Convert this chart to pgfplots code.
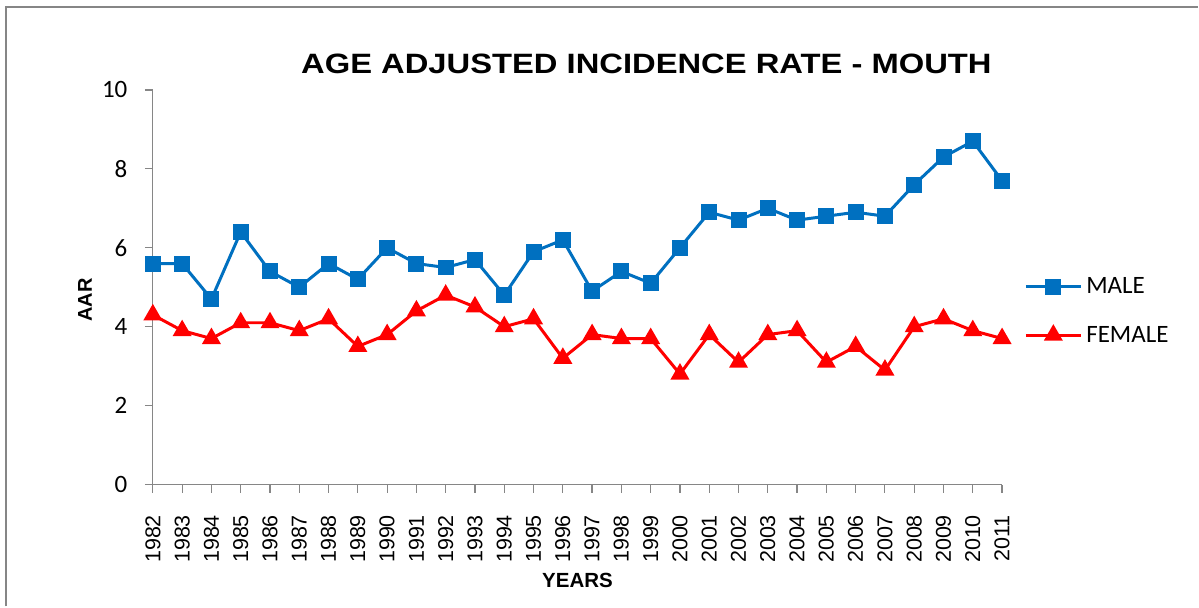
\documentclass[border=0pt]{standalone}
\usepackage{pgfplots}
\pgfplotsset{compat=1.18}
\usepackage{fontspec}
\setmainfont{Liberation Sans}
\newfontfamily\calfont{Carlito}
\usepackage{graphicx}
\definecolor{maleblue}{HTML}{0070C0}
\definecolor{femred}{HTML}{FF0000}
\definecolor{axgray}{HTML}{868686}
\pgfplotstableread{
year male female
1982 5.6 4.3
1983 5.6 3.9
1984 4.7 3.7
1985 6.4 4.1
1986 5.4 4.1
1987 5.0 3.9
1988 5.6 4.2
1989 5.2 3.5
1990 6.0 3.8
1991 5.6 4.4
1992 5.5 4.8
1993 5.7 4.5
1994 4.8 4.0
1995 5.9 4.2
1996 6.2 3.2
1997 4.9 3.8
1998 5.4 3.7
1999 5.1 3.7
2000 6.0 2.8
2001 6.9 3.8
2002 6.7 3.1
2003 7.0 3.8
2004 6.7 3.9
2005 6.8 3.1
2006 6.9 3.5
2007 6.8 2.9
2008 7.6 4.0
2009 8.3 4.2
2010 8.7 3.9
2011 7.7 3.7
}\datatable
\begin{document}
\begin{tikzpicture}
\path[fill=white] (0,0) rectangle (1199bp,607bp);
\draw[axgray, line width=2.2bp] (6bp,0) -- (6bp,600bp) -- (1199bp,600bp);
\node[font=\bfseries\fontsize{28bp}{30bp}\selectfont] at (647bp,543bp) {\scalebox{1.17}[1]{AGE ADJUSTED INCIDENCE RATE - MOUTH}};
\begin{axis}[
  scale only axis,
  width=850bp, height=395bp,
  at={(153bp,122bp)}, anchor=origin,
  xmin=1982, xmax=2011, ymin=0, ymax=10,
  axis lines=left,
  axis line style={-, axgray, line width=1.2bp},
  xtick={1982,...,2011},
  ytick={0,2,4,6,8,10},
  tick align=outside,
  major tick length=8bp,
  tick style={axgray, line width=1.2bp},
  xticklabel style={rotate=90, anchor=east, font=\fontsize{21.5bp}{23bp}\selectfont, xshift=-19bp},
  yticklabel style={font=\calfont\fontsize{25bp}{27bp}\selectfont, xshift=-14bp},
  xticklabel={\pgfmathprintnumber[1000 sep={}]{\tick}},
  /pgf/number format/assume math mode=true,
  xlabel={\bfseries YEARS},
  ylabel={\bfseries AAR},
  xlabel style={font=\fontsize{20.5bp}{22bp}\selectfont, at={(0.5,0)}, anchor=center, yshift=-96bp},
  ylabel style={font=\fontsize{20bp}{22bp}\selectfont, at={(0,0.468)}, anchor=center, yshift=68bp},
  legend style={at={(1.026,0.44)}, anchor=west, draw=none, fill=none,
    font=\calfont\fontsize{25bp}{27bp}\selectfont, row sep=23bp,
    legend cell align=left, inner sep=0pt,
    nodes={inner sep=4bp}},
  legend image code/.code={
    \draw[#1, mark repeat=2, mark phase=2] plot coordinates {(0bp,0bp) (27.5bp,0bp) (55bp,0bp)};},
  clip=false,
]
\addplot[maleblue, line width=3bp, mark=square*, mark size=6.5bp, mark options={solid}] table[x=year, y=male] {\datatable};
\addlegendentry{MALE}
\addplot[femred, line width=3bp, mark=triangle*, mark size=8bp, mark options={solid}] table[x=year, y=female] {\datatable};
\addlegendentry{FEMALE}
\end{axis}
\end{tikzpicture}
\end{document}
